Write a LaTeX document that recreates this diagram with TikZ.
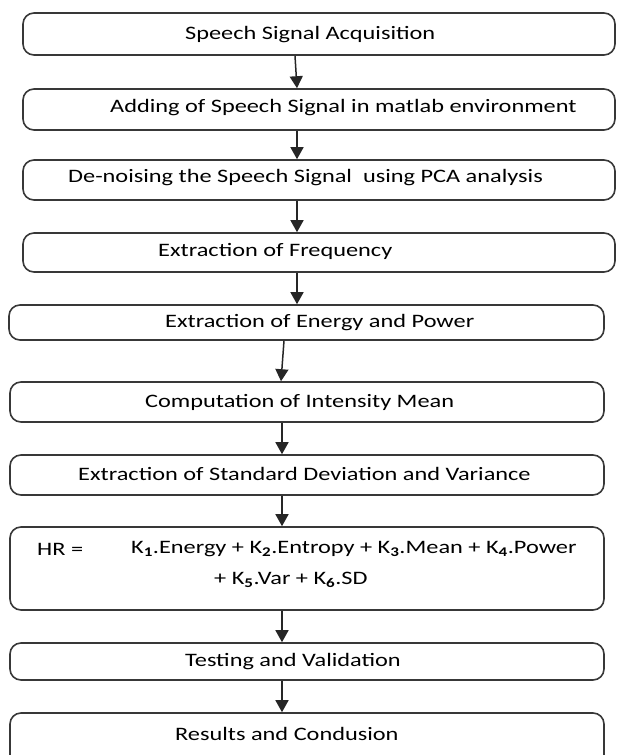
\documentclass[tikz,border=0pt]{standalone}
\usepackage{fontspec}
\setmainfont{Carlito}[FakeStretch=1.28]
\usetikzlibrary{arrows.meta}
\tikzset{
  box/.style={draw=black!78, line width=1.6pt, rounded corners=11pt, inner sep=0pt},
  lbl/.style={anchor=west, inner sep=0pt, font=\fontsize{19}{23}\selectfont, text=black},
  arr/.style={draw=black!85, line width=1.5pt, -{Triangle[length=12pt,width=13pt]}}
}
\begin{document}
\begin{tikzpicture}[x=1pt,y=-1pt]
\useasboundingbox (0,0) rectangle (616,755);
\clip (0,0) rectangle (616,755);
% boxes
\node[box, minimum width=592pt, minimum height=42pt] (b1) at (319,34) {};
\node[box, minimum width=592pt, minimum height=41pt] (b2) at (319,109.5) {};
\node[box, minimum width=592pt, minimum height=40pt] (b3) at (319,180) {};
\node[box, minimum width=592pt, minimum height=39pt] (b4) at (319,252.5) {};
\node[box, minimum width=595pt, minimum height=35pt] (b5) at (306.5,322.5) {};
\node[box, minimum width=594pt, minimum height=40pt] (b6) at (307,402) {};
\node[box, minimum width=594pt, minimum height=40pt] (b7) at (307,475) {};
\node[box, minimum width=594pt, minimum height=83pt] (b8) at (307,568.5) {};
\node[box, minimum width=594pt, minimum height=37pt] (b9) at (307,661.5) {};
\node[box, minimum width=594pt, minimum height=66pt] (b10) at (307,746) {};
% texts
\node[lbl] (t1) at (185,35) {Speech Signal Acquisition};
\node[lbl] (t2) at (110,108) {Adding of Speech Signal in matlab environment};
\node[lbl] (t3) at (68,178) {De-noising the Speech Signal\ \ using PCA analysis};
\node[lbl] (t4) at (158,251) {Extraction of Frequency};
\node[lbl] (t5) at (165,323) {Extraction of Energy and Power};
\node[lbl] (t6) at (145,402) {Computation of Intensity Mean};
\node[lbl] (t7) at (78,474) {Extraction of Standard Deviation and Variance};
\node[lbl] (t8a) at (37,549) {HR =};
\node[lbl] (t8b) at (131,549) {K\textsubscript{\textbf{1}}.Energy + K\textsubscript{\textbf{2}}.Entropy + K\textsubscript{\textbf{3}}.Mean + K\textsubscript{\textbf{4}}.Power};
\node[lbl] (t8c) at (214,580) {+ K\textsubscript{\textbf{5}}.Var + K\textsubscript{\textbf{6}}.SD};
\node[lbl] (t9) at (185,662) {Testing and Validation};
\node[lbl] (t10) at (175,734) {Results and Condusion};
% arrows
\draw[arr] ([xshift=-24pt]b1.south) -- ([xshift=-22pt]b2.north);
\draw[arr] ([xshift=-22pt]b2.south) -- ([xshift=-22pt]b3.north);
\draw[arr] ([xshift=-22pt]b3.south) -- ([xshift=-22pt]b4.north);
\draw[arr] ([xshift=-22pt]b4.south) -- ([xshift=-9.5pt]b5.north);
\draw[arr] ([xshift=-22.5pt]b5.south) -- ([xshift=-26pt]b6.north);
\draw[arr] ([xshift=-25pt]b6.south) -- ([xshift=-25pt]b7.north);
\draw[arr] ([xshift=-25pt]b7.south) -- ([xshift=-25pt]b8.north);
\draw[arr] ([xshift=-25pt]b8.south) -- ([xshift=-25pt]b9.north);
\draw[arr] ([xshift=-25pt]b9.south) -- ([xshift=-25pt]b10.north);
\end{tikzpicture}
\end{document}
